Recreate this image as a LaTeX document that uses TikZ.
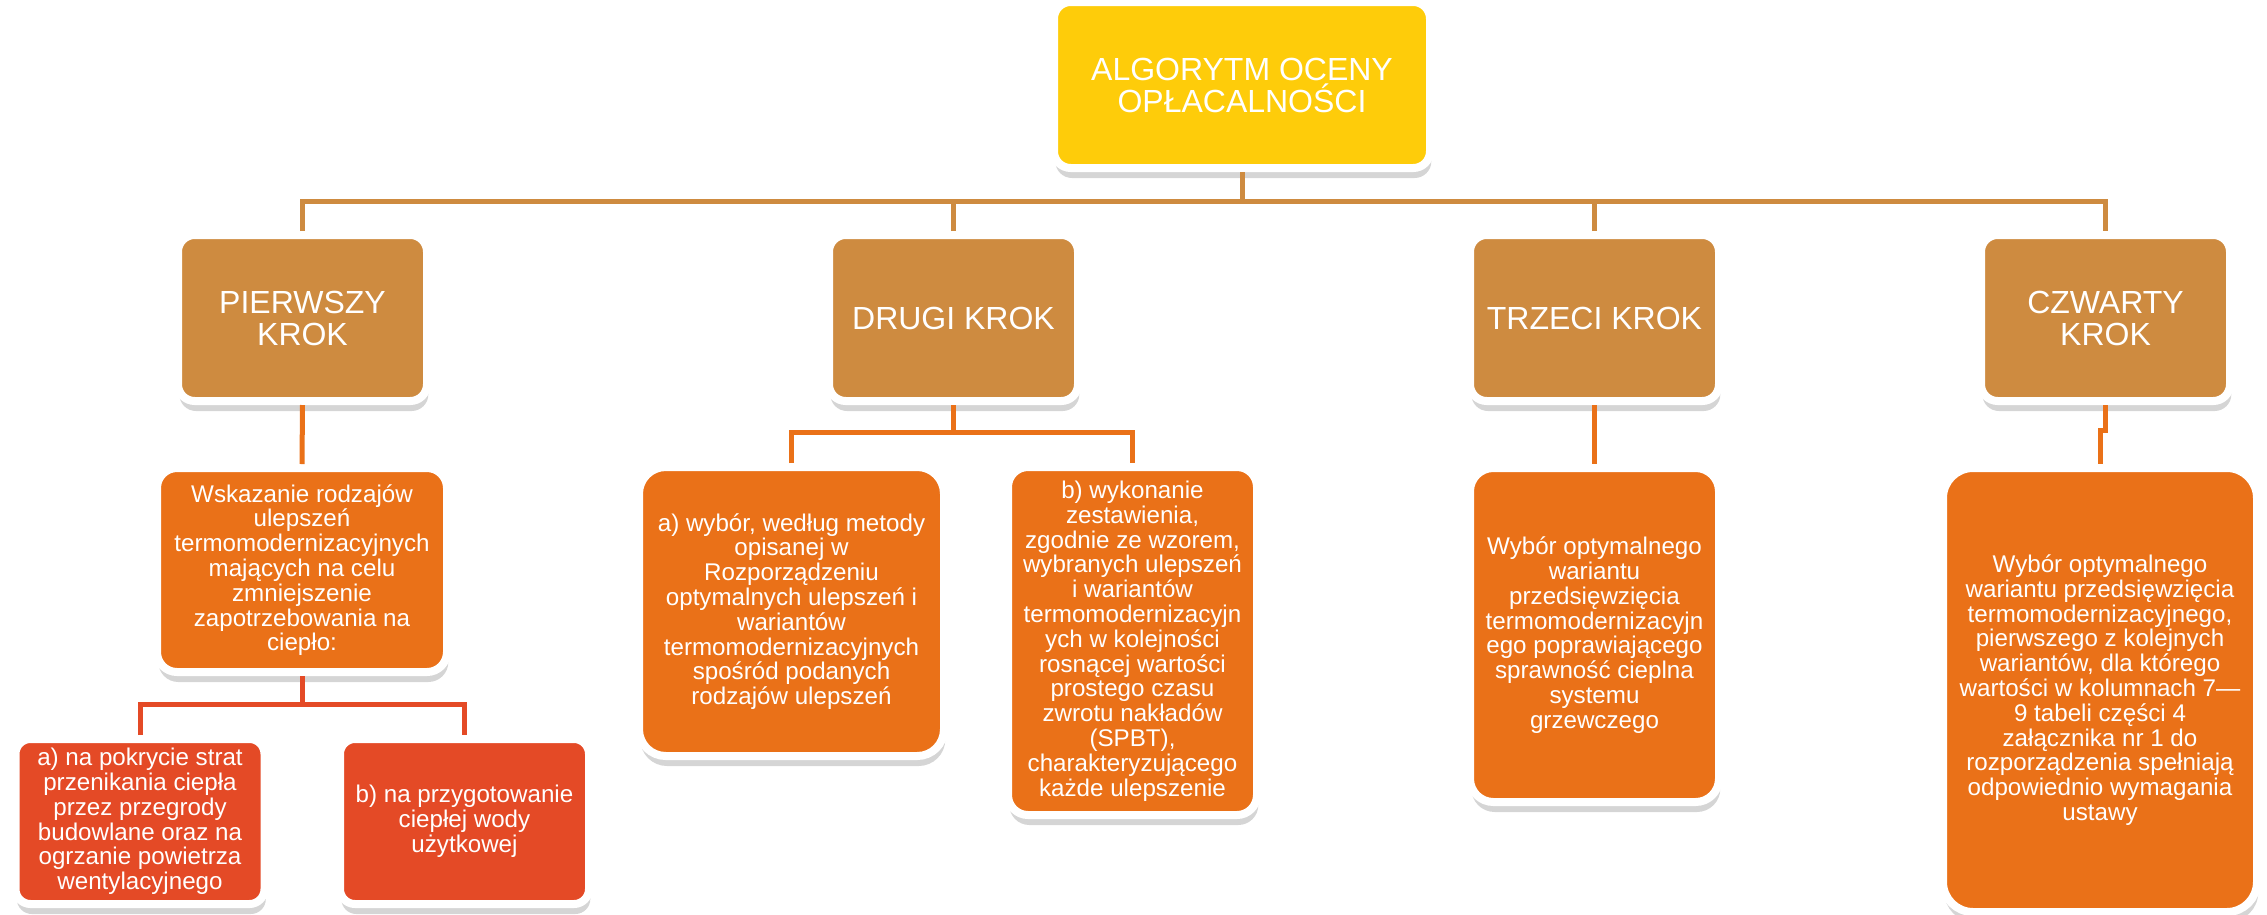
\documentclass[tikz,border=0pt]{standalone}
\usepackage{fontspec}
\setmainfont{Liberation Sans}
\usetikzlibrary{shadows}
\definecolor{cyellow}{RGB}{254,204,10}
\definecolor{ctan}{RGB}{206,139,64}
\definecolor{corange}{RGB}{234,113,24}
\definecolor{cred}{RGB}{228,74,38}
\tikzset{
  box/.style={draw=white, line width=2.4pt, text=white, align=center, inner sep=0pt,
    drop shadow={shadow xshift=0.4pt, shadow yshift=-3pt, opacity=0.3, fill=black!55}},
  bigtxt/.style={font=\fontsize{9.6}{9.6}\selectfont},
  smalltxt/.style={font=\fontsize{7.25}{7.44}\selectfont},
  tanln/.style={draw=ctan, line width=1.5pt},
  orgln/.style={draw=corange, line width=1.5pt},
  redln/.style={draw=cred, line width=1.5pt},
  topbox/.style={box, bigtxt, fill=cyellow, minimum width=112.8pt, minimum height=49.8pt, rounded corners=5pt},
  stepbox/.style={box, bigtxt, fill=ctan, minimum width=74.7pt, minimum height=49.8pt, rounded corners=5pt},
  orgbox/.style={box, smalltxt, fill=corange},
  redbox/.style={box, smalltxt, fill=cred, minimum width=74.7pt, minimum height=49.5pt, rounded corners=4.5pt}
}
\begin{document}
\begin{tikzpicture}[x=0.3pt,y=-0.3pt]
\useasboundingbox (0,0) rectangle (2267,914);
\clip (0,0) rectangle (2267,914);

% nodes
\node[topbox] (top) at (1242,85) {ALGORYTM OCENY\\OPŁACALNOŚCI};

\node[stepbox] (s1) at (302.5,318) {PIERWSZY\\KROK};
\node[stepbox] (s2) at (953.5,318) {DRUGI KROK};
\node[stepbox] (s3) at (1594.5,318) {TRZECI KROK};
\node[stepbox] (s4) at (2105.5,318) {CZWARTY\\KROK};

\node[orgbox, minimum width=87pt, minimum height=61.2pt, rounded corners=6pt] (w) at (302,570)
  {Wskazanie rodzajów\\ulepszeń\\termomodernizacyjnych\\mających na celu\\zmniejszenie\\zapotrzebowania na\\ciepło:};

\node[redbox] (l4a) at (140,821.5)
  {a) na pokrycie strat\\przenikania ciepła\\przez przegrody\\budowlane oraz na\\ogrzanie powietrza\\wentylacyjnego};
\node[redbox] (l4b) at (464.5,821.5)
  {b) na przygotowanie\\ciepłej wody\\użytkowej};

\node[orgbox, minimum width=91.5pt, minimum height=86.7pt, rounded corners=8pt] (a2) at (791.5,611.5)
  {a) wybór, według metody\\opisanej w\\Rozporządzeniu\\optymalnych ulepszeń i\\wariantów\\termomodernizacyjnych\\spośród podanych\\rodzajów ulepszeń};
\node[orgbox, minimum width=74.7pt, minimum height=104.4pt, rounded corners=6pt] (b2) at (1132.5,641)
  {b) wykonanie\\zestawienia,\\zgodnie ze wzorem,\\wybranych ulepszeń\\i wariantów\\termomodernizacyjn\\ych w kolejności\\rosnącej wartości\\prostego czasu\\zwrotu nakładów\\(SPBT),\\charakteryzującego\\każde ulepszenie};

\node[orgbox, minimum width=74.7pt, minimum height=100.2pt, rounded corners=7pt] (c3) at (1594.5,635)
  {Wybór optymalnego\\wariantu\\przedsięwzięcia\\termomodernizacyjn\\ego poprawiającego\\sprawność cieplna\\systemu\\grzewczego};

\node[orgbox, minimum width=94.2pt, minimum height=133.2pt, rounded corners=9pt] (c4) at (2100,690)
  {Wybór optymalnego\\wariantu przedsięwzięcia\\termomodernizacyjnego,\\pierwszego z kolejnych\\wariantów, dla którego\\wartości w kolumnach 7—\\9 tabeli części 4\\załącznika nr 1 do\\rozporządzenia spełniają\\odpowiednio wymagania\\ustawy};

% junction coordinates
\coordinate (bar) at (0,201);
\coordinate (j2) at (0,432);
\coordinate (j1) at (0,704);
\coordinate (j4) at (2100,430);

% top level connectors
\draw[tanln] (top.south) -- (top.south |- bar);
\draw[tanln] (s1.north) -- (s1.north |- bar) -- (s4.north |- bar) -- (s4.north);
\draw[tanln] (s2.north) -- (s2.north |- bar);
\draw[tanln] (s3.north) -- (s3.north |- bar);

% step 1
\draw[orgln] (s1.south) -- (w.north);
\draw[redln] (w.south) -- (w.south |- j1);
\draw[redln] (l4a.north) -- (l4a.north |- j1) -- (l4b.north |- j1) -- (l4b.north);

% step 2
\draw[orgln] (s2.south) -- (s2.south |- j2);
\draw[orgln] (a2.north) -- (a2.north |- j2) -- (b2.north |- j2) -- (b2.north);

% step 3
\draw[orgln] (s3.south) -- (c3.north);

% step 4
\draw[orgln] (s4.south) |- (j4) -- (c4.north);
\end{tikzpicture}
\end{document}
